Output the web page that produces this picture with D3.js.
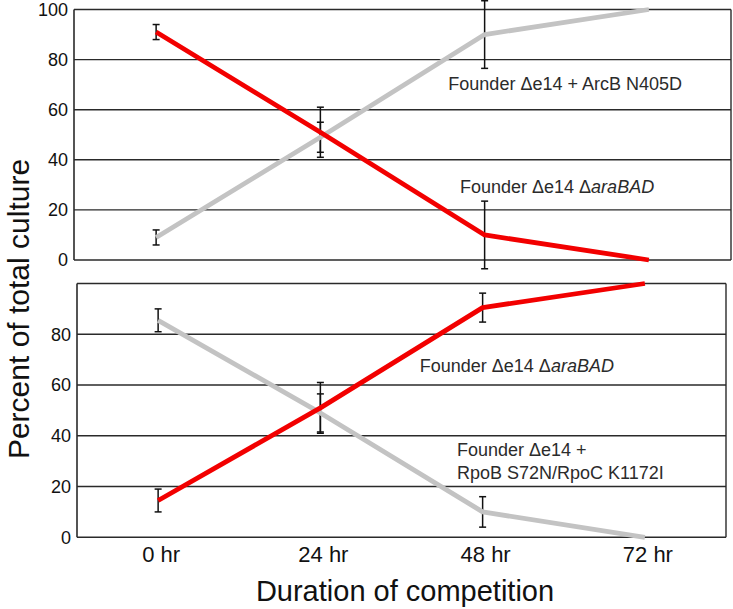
<!DOCTYPE html>
<html>
<head>
<meta charset="utf-8">
<script src="https://cdn.jsdelivr.net/npm/d3@7"></script>
<style>
  body { margin: 0; background: #fff; }
  svg { display: block; font-family: "Liberation Sans", Arial, Helvetica, sans-serif; }
</style>
</head>
<body>
<div class="chart"></div>
<script>
// time points (hours) and tick labels
var hours = [0, 24, 48, 72];
var hourLabels = ["0 hr", "24 hr", "48 hr", "72 hr"];

// top panel: araBAD vs ArcB N405D
var topRed = [91, 51, 10, 0];
var topRedErr = [3, 10, 13.5, 0];
var topGray = [9, 49, 90, 100];
var topGrayErr = [3, 6, 13.5, 0];

// bottom panel: araBAD vs RpoB/RpoC
var botRed = [14.5, 51, 90.5, 100];
var botRedErr = [4.5, 10, 5.7, 0];
var botGray = [85.5, 49, 10, 0];
var botGrayErr = [4.5, 7.5, 6, 0];

var topTicks = [0, 20, 40, 60, 80, 100];
var botTicks = [0, 20, 40, 60, 80];

var width = 733, height = 609;

var svg = d3.select("div.chart").append("svg")
    .attr("width", width)
    .attr("height", height);

function series(vals, errs) {
    return hours.map(function (h, i) {
        return {h: h, v: vals[i], e: errs[i]};
    });
}

function drawPanel(p) {
    var x = d3.scaleLinear().domain([-12, 84]).range([p.left, p.right]);
    var y = d3.scaleLinear().domain([0, 100]).range([p.bottom, p.top]);

    var g = svg.append("g");

    // horizontal grid lines (0..100)
    g.selectAll("line.grid")
        .data(d3.range(0, 101, 20))
        .enter().append("line")
        .attr("class", "grid")
        .attr("x1", p.left)
        .attr("x2", p.right)
        .attr("y1", function (d) { return y(d); })
        .attr("y2", function (d) { return y(d); })
        .attr("stroke", "#2a2a2a")
        .attr("stroke-width", 1.4);

    // left and right borders
    g.append("line")
        .attr("x1", p.left).attr("x2", p.left)
        .attr("y1", y(0)).attr("y2", y(100))
        .attr("stroke", "#2a2a2a").attr("stroke-width", 1.6);
    g.append("line")
        .attr("x1", p.right).attr("x2", p.right)
        .attr("y1", y(0)).attr("y2", y(100))
        .attr("stroke", "#2a2a2a").attr("stroke-width", 1.4);

    // y tick labels
    g.selectAll("text.ytick")
        .data(p.ticks)
        .enter().append("text")
        .attr("class", "ytick")
        .attr("x", p.left - 6)
        .attr("y", function (d) { return y(d); })
        .attr("dy", "0.35em")
        .attr("text-anchor", "end")
        .attr("font-size", "18px")
        .attr("fill", "#111")
        .text(function (d) { return d; });

    var line = d3.line()
        .x(function (d) { return x(d.h); })
        .y(function (d) { return y(d.v); });

    var all = p.lines;

    // error bars first, lines on top
    all.forEach(function (s) {
        var pts = s.data.filter(function (d) { return d.e > 0; });
        var eb = g.append("g");
        eb.selectAll("line.stem").data(pts).enter().append("line")
            .attr("x1", function (d) { return x(d.h); })
            .attr("x2", function (d) { return x(d.h); })
            .attr("y1", function (d) { return y(d.v - d.e); })
            .attr("y2", function (d) { return y(d.v + d.e); })
            .attr("stroke", "#111").attr("stroke-width", 1.5);
        [-1, 1].forEach(function (sgn) {
            eb.selectAll("line.cap" + sgn).data(pts).enter().append("line")
                .attr("x1", function (d) { return x(d.h) - 3.5; })
                .attr("x2", function (d) { return x(d.h) + 3.5; })
                .attr("y1", function (d) { return y(d.v + sgn * d.e); })
                .attr("y2", function (d) { return y(d.v + sgn * d.e); })
                .attr("stroke", "#111").attr("stroke-width", 1.5);
        });
    });

    all.forEach(function (s) {
        g.append("path")
            .datum(s.data)
            .attr("d", line)
            .attr("fill", "none")
            .attr("stroke", s.color)
            .attr("stroke-width", s.w)
            .attr("stroke-linejoin", "round");
    });

    // annotations in data coordinates
    p.notes.forEach(function (n) {
        var t = g.append("text")
            .attr("x", x(n.h))
            .attr("y", y(n.v))
            .attr("font-size", "18px")
            .attr("fill", "#2b2b2b");
        n.parts.forEach(function (pt) {
            t.append("tspan")
                .attr("font-style", pt.italic ? "italic" : "normal")
                .text(pt.t);
        });
    });

    return x;
}

var xTop = drawPanel({
    left: 74, right: 731, top: 9.5, bottom: 260,
    ticks: topTicks,
    lines: [
        {data: series(topGray, topGrayErr), color: "#c3c3c3", w: 4.8},
        {data: series(topRed, topRedErr), color: "#f20000", w: 4.8}
    ],
    notes: [
        {h: 42.7, v: 68, parts: [{t: "Founder \u0394e14 + ArcB N405D"}]},
        {h: 44.4, v: 26.8, parts: [{t: "Founder \u0394e14 \u0394"}, {t: "araBAD", italic: true}]}
    ]
});

var xBot = drawPanel({
    left: 77, right: 726, top: 283.5, bottom: 537.3,
    ticks: botTicks,
    lines: [
        {data: series(botGray, botGrayErr), color: "#c3c3c3", w: 4.8},
        {data: series(botRed, botRedErr), color: "#f20000", w: 4.8}
    ],
    notes: [
        {h: 38.7, v: 65.3, parts: [{t: "Founder \u0394e14 \u0394"}, {t: "araBAD", italic: true}]},
        {h: 44.2, v: 32.2, parts: [{t: "Founder \u0394e14 +"}]},
        {h: 44.2, v: 23, parts: [{t: "RpoB S72N/RpoC K1172I"}]}
    ]
});

// x tick labels under bottom panel
svg.selectAll("text.xtick")
    .data(hours)
    .enter().append("text")
    .attr("class", "xtick")
    .attr("x", function (d) { return xBot(d) + 3; })
    .attr("y", 562)
    .attr("text-anchor", "middle")
    .attr("font-size", "22px")
    .attr("fill", "#111")
    .text(function (d, i) { return hourLabels[i]; });

// axis titles
svg.append("text")
    .attr("x", 405)
    .attr("y", 601)
    .attr("text-anchor", "middle")
    .attr("font-size", "29px")
    .attr("fill", "#111")
    .text("Duration of competition");

svg.append("text")
    .attr("transform", "translate(29,309) rotate(-90)")
    .attr("text-anchor", "middle")
    .attr("font-size", "30px")
    .attr("fill", "#111")
    .text("Percent of total culture");
</script>
</body>
</html>
